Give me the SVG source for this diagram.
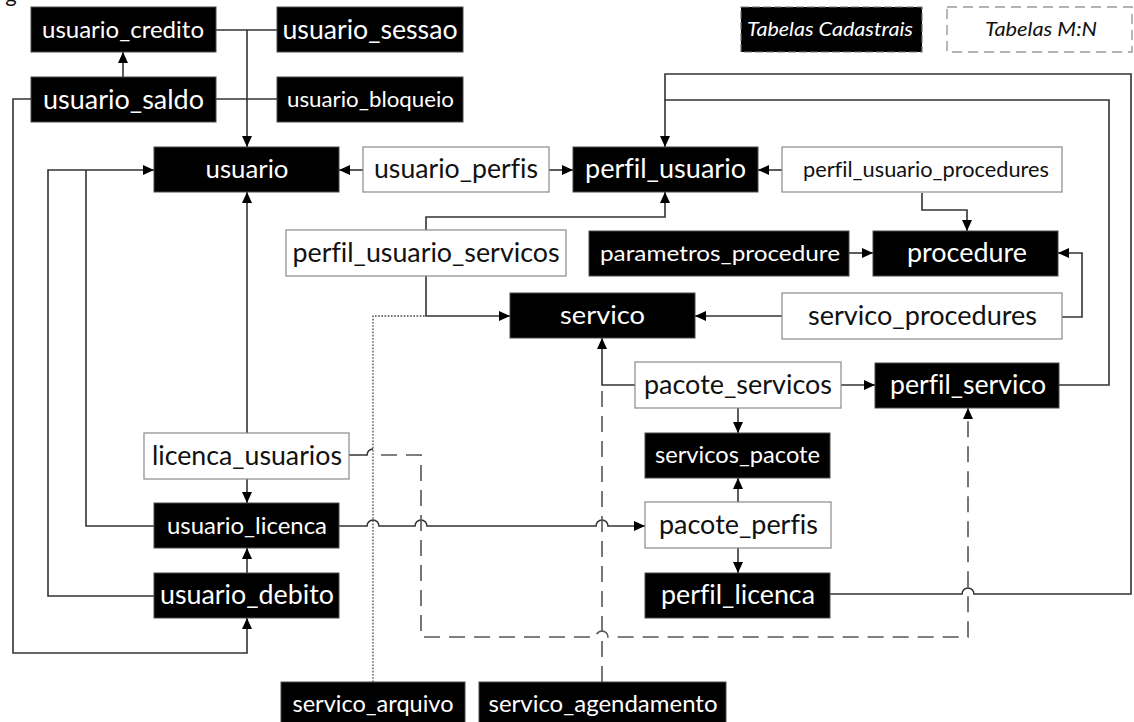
<svg xmlns="http://www.w3.org/2000/svg" width="1134" height="722" viewBox="0 0 1134 722">
  <style>
    .tb { fill: #000; stroke: #4a4a4a; stroke-width: 1; }
    .mn { fill: #fff; stroke: #8a8a8a; stroke-width: 1.2; }
    .t { font-family: Lato, "Open Sans", "Liberation Sans", sans-serif; text-anchor: middle; font-variant-ligatures: none; }
    .tw { fill: #fff; }
    .tk { fill: #111; }
    .c { fill: none; stroke: #333; stroke-width: 1.6; }
    .d { fill: none; stroke: #555; stroke-width: 1.6; stroke-dasharray: 16 9; }
    .o { fill: none; stroke: #444; stroke-width: 1.3; stroke-dasharray: 1.6 1.6; }
  </style>
  <defs>
    <marker id="ah" markerUnits="userSpaceOnUse" markerWidth="12" markerHeight="12" viewBox="0 0 12 12" refX="11" refY="6" orient="auto">
      <path d="M0,1 L11,6 L0,11 Z" fill="#000"/>
    </marker>
  </defs>
  <rect width="1134" height="722" fill="#fff"/>

  <!-- clipped caption glyph at top edge -->
  <text class="t tk" x="11" y="2" font-size="22">g</text>

  <!-- connectors -->
  <g id="connectors">
    <!-- usuario_credito / usuario_sessao -> usuario -->
    <path class="c" d="M216,30 H277"/>
    <path class="c" d="M247,30 V147" marker-end="url(#ah)"/>
    <!-- usuario_saldo / usuario_bloqueio -->
    <path class="c" d="M216,99 H277"/>
    <!-- usuario_saldo -> usuario_credito -->
    <path class="c" d="M123,77 V52" marker-end="url(#ah)"/>
    <!-- usuario_saldo -> usuario_debito -->
    <path class="c" d="M31,99 H13 V653 H247 V618" marker-end="url(#ah)"/>
    <!-- usuario_debito / usuario_licenca -> usuario -->
    <path class="c" d="M154,596 H48 V170 H154" marker-end="url(#ah)"/>
    <path class="c" d="M154,526 H86 V170"/>
    <!-- licenca_usuarios -> usuario / usuario_licenca -->
    <path class="c" d="M247,433 V192" marker-end="url(#ah)"/>
    <path class="c" d="M247,479 V503" marker-end="url(#ah)"/>
    <!-- usuario_debito -> usuario_licenca -->
    <path class="c" d="M247,573 V548" marker-end="url(#ah)"/>
    <!-- usuario_perfis -->
    <path class="c" d="M363,170 H339" marker-end="url(#ah)"/>
    <path class="c" d="M549,170 H573" marker-end="url(#ah)"/>
    <!-- perfil_usuario_procedures -->
    <path class="c" d="M782,170 H758" marker-end="url(#ah)"/>
    <path class="c" d="M922,193 V210 H967 V231" marker-end="url(#ah)"/>
    <!-- perfil_usuario_servicos -->
    <path class="c" d="M426,230 V217 H665 V192" marker-end="url(#ah)"/>
    <path class="c" d="M426,276 V316 H510" marker-end="url(#ah)"/>
    <!-- servico_arquivo -> servico -->
    <path class="o" d="M373,682 V316 H426"/>
    <!-- parametros_procedure -> procedure -->
    <path class="c" d="M849,253 H873" marker-end="url(#ah)"/>
    <!-- servico_procedures -->
    <path class="c" d="M782,316 H695" marker-end="url(#ah)"/>
    <path class="c" d="M1062,317 H1082 V253 H1058" marker-end="url(#ah)"/>
    <!-- pacote_servicos -->
    <path class="c" d="M635,385 H602 V338" marker-end="url(#ah)"/>
    <path class="c" d="M841,385 H875" marker-end="url(#ah)"/>
    <path class="c" d="M738,408 V433" marker-end="url(#ah)"/>
    <!-- pacote_perfis -->
    <path class="c" d="M738,502 V478" marker-end="url(#ah)"/>
    <path class="c" d="M738,548 V573" marker-end="url(#ah)"/>
    <!-- usuario_licenca -> pacote_perfis (hops over crossings) -->
    <path class="c" d="M339,526 H367 A6,6 0 0 1 379,526 H415 A6,6 0 0 1 427,526 H596 A6,6 0 0 1 608,526 H645" marker-end="url(#ah)"/>
    <!-- perfil_servico / perfil_licenca -> perfil_usuario -->
    <path class="c" d="M830,594 H962 A6,6 0 0 1 974,594 H1131 V74 H665 V100"/>
    <path class="c" d="M1059,385 H1109 V100 H665 V147" marker-end="url(#ah)"/>
    <!-- licenca_usuarios -> perfil_servico -->
    <path class="c" d="M349,455 H367 A6,6 0 0 1 373,449"/>
    <path class="d" d="M381,455 H421 V637 H596 A6,6 0 0 1 608,637 H968 V408" marker-end="url(#ah)"/>
    <!-- servico_agendamento -> servico -->
    <path class="d" d="M602,682 V386"/>
  </g>

  <!-- legend -->
  <g id="legend-cadastrais">
    <rect x="741" y="7" width="181" height="45" fill="#000" stroke="#777" stroke-width="1.2" stroke-dasharray="8 3"/>
    <text class="t tw" x="830" y="36" font-size="20" font-style="italic" textLength="166" lengthAdjust="spacingAndGlyphs">Tabelas Cadastrais</text>
  </g>
  <g id="legend-mn">
    <rect x="947" y="7" width="185" height="45" fill="#fff" stroke="#999" stroke-width="1.4" stroke-dasharray="10 6"/>
    <text class="t tk" x="1041" y="36" font-size="20" font-style="italic" textLength="112" lengthAdjust="spacingAndGlyphs">Tabelas M:N</text>
  </g>

  <!-- nodes -->
  <g id="usuario_credito">
    <rect class="tb" x="31" y="7" width="185" height="45"/>
    <text class="t tw" x="123" y="38" font-size="23" textLength="162" lengthAdjust="spacingAndGlyphs">usuario_credito</text>
  </g>
  <g id="usuario_sessao">
    <rect class="tb" x="277" y="7" width="186" height="45"/>
    <text class="t tw" x="370" y="39" font-size="26" textLength="175" lengthAdjust="spacingAndGlyphs">usuario_sessao</text>
  </g>
  <g id="usuario_saldo">
    <rect class="tb" x="31" y="77" width="185" height="45"/>
    <text class="t tw" x="123.5" y="109" font-size="26" textLength="161" lengthAdjust="spacingAndGlyphs">usuario_saldo</text>
  </g>
  <g id="usuario_bloqueio">
    <rect class="tb" x="277" y="77" width="186" height="45"/>
    <text class="t tw" x="370.5" y="107" font-size="21" textLength="167" lengthAdjust="spacingAndGlyphs">usuario_bloqueio</text>
  </g>
  <g id="usuario">
    <rect class="tb" x="154" y="147" width="185" height="45"/>
    <text class="t tw" x="247" y="178" font-size="25" textLength="83" lengthAdjust="spacingAndGlyphs">usuario</text>
  </g>
  <g id="usuario_perfis">
    <rect class="mn" x="363" y="147" width="186" height="45"/>
    <text class="t tk" x="456" y="178" font-size="26" textLength="164" lengthAdjust="spacingAndGlyphs">usuario_perfis</text>
  </g>
  <g id="perfil_usuario">
    <rect class="tb" x="573" y="147" width="185" height="45"/>
    <text class="t tw" x="665.5" y="178" font-size="26" textLength="161" lengthAdjust="spacingAndGlyphs">perfil_usuario</text>
  </g>
  <g id="perfil_usuario_procedures">
    <rect class="mn" x="782" y="147" width="280" height="45"/>
    <text class="t tk" x="926" y="177" font-size="21" textLength="246" lengthAdjust="spacingAndGlyphs">perfil_usuario_procedures</text>
  </g>
  <g id="perfil_usuario_servicos">
    <rect class="mn" x="286" y="230" width="280" height="46"/>
    <text class="t tk" x="426" y="262" font-size="26" textLength="267" lengthAdjust="spacingAndGlyphs">perfil_usuario_servicos</text>
  </g>
  <g id="parametros_procedure">
    <rect class="tb" x="589" y="231" width="260" height="45"/>
    <text class="t tw" x="720" y="261" font-size="22" textLength="240" lengthAdjust="spacingAndGlyphs">parametros_procedure</text>
  </g>
  <g id="procedure">
    <rect class="tb" x="873" y="231" width="185" height="45"/>
    <text class="t tw" x="967" y="262" font-size="26" textLength="120" lengthAdjust="spacingAndGlyphs">procedure</text>
  </g>
  <g id="servico">
    <rect class="tb" x="510" y="293" width="185" height="45"/>
    <text class="t tw" x="602.5" y="324" font-size="25" textLength="85" lengthAdjust="spacingAndGlyphs">servico</text>
  </g>
  <g id="servico_procedures">
    <rect class="mn" x="782" y="293" width="280" height="46"/>
    <text class="t tk" x="922.5" y="325" font-size="26" textLength="229" lengthAdjust="spacingAndGlyphs">servico_procedures</text>
  </g>
  <g id="pacote_servicos">
    <rect class="mn" x="635" y="362" width="206" height="46"/>
    <text class="t tk" x="738" y="394" font-size="26" textLength="188" lengthAdjust="spacingAndGlyphs">pacote_servicos</text>
  </g>
  <g id="perfil_servico">
    <rect class="tb" x="875" y="363" width="184" height="45"/>
    <text class="t tw" x="968" y="394" font-size="26" textLength="156" lengthAdjust="spacingAndGlyphs">perfil_servico</text>
  </g>
  <g id="licenca_usuarios">
    <rect class="mn" x="144" y="433" width="205" height="46"/>
    <text class="t tk" x="247" y="465" font-size="26" textLength="190" lengthAdjust="spacingAndGlyphs">licenca_usuarios</text>
  </g>
  <g id="servicos_pacote">
    <rect class="tb" x="645" y="433" width="185" height="45"/>
    <text class="t tw" x="737.5" y="463" font-size="23" textLength="165" lengthAdjust="spacingAndGlyphs">servicos_pacote</text>
  </g>
  <g id="usuario_licenca">
    <rect class="tb" x="154" y="503" width="185" height="45"/>
    <text class="t tw" x="247" y="534" font-size="24" textLength="160" lengthAdjust="spacingAndGlyphs">usuario_licenca</text>
  </g>
  <g id="pacote_perfis">
    <rect class="mn" x="645" y="502" width="186" height="46"/>
    <text class="t tk" x="738.5" y="534" font-size="26" textLength="159" lengthAdjust="spacingAndGlyphs">pacote_perfis</text>
  </g>
  <g id="usuario_debito">
    <rect class="tb" x="154" y="573" width="185" height="45"/>
    <text class="t tw" x="247" y="604" font-size="26" textLength="174" lengthAdjust="spacingAndGlyphs">usuario_debito</text>
  </g>
  <g id="perfil_licenca">
    <rect class="tb" x="645" y="573" width="185" height="45"/>
    <text class="t tw" x="738" y="604" font-size="26" textLength="154" lengthAdjust="spacingAndGlyphs">perfil_licenca</text>
  </g>
  <g id="servico_arquivo">
    <rect class="tb" x="281" y="682" width="184" height="46"/>
    <text class="t tw" x="373" y="712" font-size="23" textLength="161" lengthAdjust="spacingAndGlyphs">servico_arquivo</text>
  </g>
  <g id="servico_agendamento">
    <rect class="tb" x="479" y="682" width="247" height="46"/>
    <text class="t tw" x="603" y="712" font-size="23" textLength="229" lengthAdjust="spacingAndGlyphs">servico_agendamento</text>
  </g>
</svg>
